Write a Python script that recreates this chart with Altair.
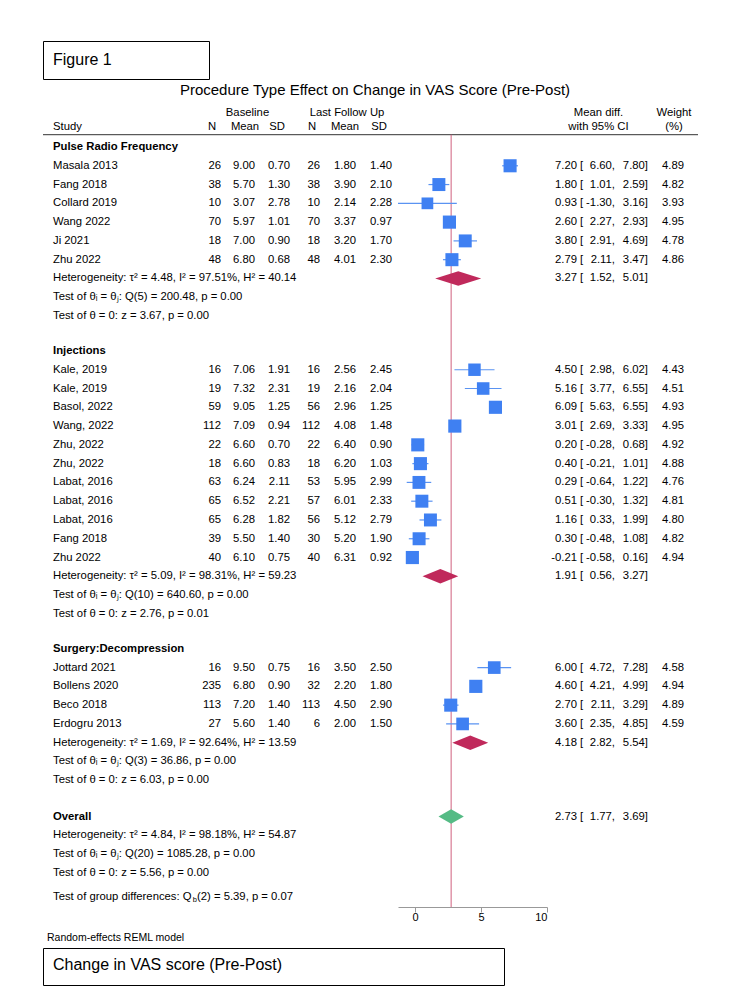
import altair as alt
import pandas as pd

# ---------------- data ----------------
section_names = ["Pulse Radio Frequency", "Injections", "Surgery:Decompression"]
study = ["Masala 2013", "Fang 2018", "Collard 2019", "Wang 2022", "Ji 2021", "Zhu 2022",
         "Kale, 2019", "Kale, 2019", "Basol, 2022", "Wang, 2022", "Zhu, 2022", "Zhu, 2022",
         "Labat, 2016", "Labat, 2016", "Labat, 2016", "Fang 2018", "Zhu 2022",
         "Jottard 2021", "Bollens 2020", "Beco 2018", "Erdogru 2013"]
section = [0] * 6 + [1] * 11 + [2] * 4
n_base = [26, 38, 10, 70, 18, 48, 16, 19, 59, 112, 22, 18, 63, 65, 65, 39, 40, 16, 235, 113, 27]
mean_base = [9.00, 5.70, 3.07, 5.97, 7.00, 6.80, 7.06, 7.32, 9.05, 7.09, 6.60, 6.60, 6.24, 6.52,
             6.28, 5.50, 6.10, 9.50, 6.80, 7.20, 5.60]
sd_base = [0.70, 1.30, 2.78, 1.01, 0.90, 0.68, 1.91, 2.31, 1.25, 0.94, 0.70, 0.83, 2.11, 2.21,
           1.82, 1.40, 0.75, 0.75, 0.90, 1.40, 1.40]
n_fu = [26, 38, 10, 70, 18, 48, 16, 19, 56, 112, 22, 18, 53, 57, 56, 30, 40, 16, 32, 113, 6]
mean_fu = [1.80, 3.90, 2.14, 3.37, 3.20, 4.01, 2.56, 2.16, 2.96, 4.08, 6.40, 6.20, 5.95, 6.01,
           5.12, 5.20, 6.31, 3.50, 2.20, 4.50, 2.00]
sd_fu = [1.40, 2.10, 2.28, 0.97, 1.70, 2.30, 2.45, 2.04, 1.25, 1.48, 0.90, 1.03, 2.99, 2.33,
         2.79, 1.90, 0.92, 2.50, 1.80, 2.90, 1.50]
md = [7.20, 1.80, 0.93, 2.60, 3.80, 2.79, 4.50, 5.16, 6.09, 3.01, 0.20, 0.40, 0.29, 0.51, 1.16,
      0.30, -0.21, 6.00, 4.60, 2.70, 3.60]
ci_lo = [6.60, 1.01, -1.30, 2.27, 2.91, 2.11, 2.98, 3.77, 5.63, 2.69, -0.28, -0.21, -0.64, -0.30,
         0.33, -0.48, -0.58, 4.72, 4.21, 2.11, 2.35]
ci_hi = [7.80, 2.59, 3.16, 2.93, 4.69, 3.47, 6.02, 6.55, 6.55, 3.33, 0.68, 1.01, 1.22, 1.32,
         1.99, 1.08, 0.16, 7.28, 4.99, 3.29, 4.85]
weight = [4.89, 4.82, 3.93, 4.95, 4.78, 4.86, 4.43, 4.51, 4.93, 4.95, 4.92, 4.88, 4.76, 4.81,
          4.80, 4.82, 4.94, 4.58, 4.94, 4.89, 4.59]

pooled_md = [3.27, 1.91, 4.18, 2.73]          # 3 subgroups + overall
pooled_lo = [1.52, 0.56, 2.82, 1.77]
pooled_hi = [5.01, 3.27, 5.54, 3.69]
tau2 = [4.48, 5.09, 1.69, 4.84]
i2 = [97.51, 98.31, 92.64, 98.18]
h2 = [40.14, 59.23, 13.59, 54.87]
q_df = [5, 10, 3, 20]
q_stat = [200.48, 640.60, 36.86, 1085.28]
q_p = [0.00, 0.00, 0.00, 0.00]
z_stat = [3.67, 2.76, 6.03, 5.56]
z_p = [0.00, 0.01, 0.00, 0.00]
qb_df, qb_stat, qb_p = 2, 5.39, 0.07

# ---------------- layout (row index) ----------------
FONT = "Liberation Sans"
FS = 11.3
GAP = 0.86
ROW_PX = 18.78
study_row, sec_row, pool_row, het_row = [], [], [], []
r = 0.0
for g in range(3):
    sec_row.append(r)
    r += 1
    for i in range(len(study)):
        if section[i] == g:
            study_row.append(r)
            r += 1
    pool_row.append(r)
    het_row.append(r)
    r += 3 + GAP
overall_row = r + 0.07
sec_row.append(overall_row)
pool_row.append(overall_row)
het_row.append(overall_row + 1)
grp_row = overall_row + 3 + 1.3

Y_HEAD1, Y_HEAD2, Y_LINE = -1.81, -1.065, -0.655
PANEL_H = 804
Y_TOP = -44 / ROW_PX
Y_BOT = Y_TOP + PANEL_H / ROW_PX
LW, MW, RW = 355, 149, 151

Y = alt.Y("row:Q", scale=alt.Scale(domain=[Y_TOP, Y_BOT], reverse=True, nice=False, zero=False),
          axis=None)

sdf = pd.DataFrame({
    "row": study_row, "study": study,
    "n1": [str(v) for v in n_base], "m1": [f"{v:.2f}" for v in mean_base],
    "s1": [f"{v:.2f}" for v in sd_base], "n2": [str(v) for v in n_fu],
    "m2": [f"{v:.2f}" for v in mean_fu], "s2": [f"{v:.2f}" for v in sd_fu],
    "md": md, "lo": ci_lo, "hi": ci_hi, "w": weight,
    "md_s": [f"{v:.2f}" for v in md], "lo_s": [f"{v:.2f}," for v in ci_lo],
    "hi_s": [f"{v:.2f}]" for v in ci_hi], "w_s": [f"{v:.2f}" for v in weight],
})

pdf = pd.DataFrame({
    "row": pool_row,
    "md_s": [f"{v:.2f}" for v in pooled_md], "lo_s": [f"{v:.2f}," for v in pooled_lo],
    "hi_s": [f"{v:.2f}]" for v in pooled_hi],
})

stat_rows, stat_text, stat_bold = [], [], []
for g in range(4):
    stat_rows.append(sec_row[g]); stat_text.append((section_names + ["Overall"])[g]); stat_bold.append(True)
    hr = het_row[g]
    stat_rows += [hr, hr + 1, hr + 2]
    stat_text += [f"Heterogeneity: \u03c4\u00b2 = {tau2[g]:.2f}, I\u00b2 = {i2[g]:.2f}%, H\u00b2 = {h2[g]:.2f}",
                  f"Test of \u03b8\u1d62 = \u03b8\u2c7c: Q({q_df[g]}) = {q_stat[g]:.2f}, p = {q_p[g]:.2f}",
                  f"Test of \u03b8 = 0: z = {z_stat[g]:.2f}, p = {z_p[g]:.2f}"]
    stat_bold += [False, False, False]
stdf = pd.DataFrame({"row": stat_rows, "text": stat_text, "bold": stat_bold})


def col(df, field, x, align="left", bold=False, size=FS):
    return alt.Chart(df).mark_text(align=align, baseline="middle", font=FONT, fontSize=size,
                                   fontWeight="bold" if bold else "normal", color="black").encode(
        x=alt.value(x), y=Y, text=f"{field}:N")


def label(text, x, row, align="left", size=FS, dy=0):
    return alt.Chart(pd.DataFrame({"row": [row]})).mark_text(
        text=text, align=align, baseline="middle", font=FONT, fontSize=size, color="black", dy=dy
    ).encode(x=alt.value(x), y=Y)


def bracket(df):
    return alt.Chart(df).mark_text(text="[", align="left", baseline="middle", font=FONT,
                                   fontSize=FS, color="black").encode(x=alt.value(33), y=Y)


def hline(w):
    return alt.Chart(pd.DataFrame({"row": [Y_LINE]})).mark_rule(color="#333", strokeWidth=1).encode(
        x=alt.value(0), x2=alt.value(w), y=Y)


# ---------------- left panel ----------------
qw = 12.395 * FS  # width of "Test of group differences: Q" in Liberation Sans
left_layers = [
    hline(LW),
    label("Study", 10, Y_HEAD2),
    label("Baseline", 204.5, Y_HEAD1, "center"),
    label("Last Follow Up", 304, Y_HEAD1, "center"),
    label("N", 169, Y_HEAD2, "center"), label("Mean", 202, Y_HEAD2, "center"),
    label("SD", 234, Y_HEAD2, "center"), label("N", 269, Y_HEAD2, "center"),
    label("Mean", 302, Y_HEAD2, "center"), label("SD", 336, Y_HEAD2, "center"),
    col(sdf, "study", 10),
    col(sdf, "n1", 178, "right"), col(sdf, "m1", 212, "right"), col(sdf, "s1", 247, "right"),
    col(sdf, "n2", 277, "right"), col(sdf, "m2", 313, "right"), col(sdf, "s2", 349, "right"),
    col(stdf[stdf.bold], "text", 10, bold=True),
    col(stdf[~stdf.bold], "text", 10),
    label("Test of group differences: Q", 10, grp_row),
    label("b", 10 + qw - 0.3, grp_row, size=7.5, dy=3),
    label(f"({qb_df}) = {qb_stat:.2f}, p = {qb_p:.2f}", 10 + qw + 3.9, grp_row),
]
left = alt.layer(*left_layers).properties(width=LW, height=PANEL_H)

# ---------------- middle (forest) panel ----------------
XS = alt.Scale(domain=[-1.3, 10], nice=False, zero=False)
XA = alt.Axis(values=[0, 5, 10], title=None, grid=False, labelFont=FONT, labelFontSize=11,
              labelColor="black", tickColor="#999", domainColor="#999", tickSize=5,
              labelPadding=-1, format="d")

dia_x, dia_y, dia_y2, dia_id, dia_col = [], [], [], [], []
H = 0.385
for g in range(4):
    rr = pool_row[g]
    c = "#55bb85" if g == 3 else "#c0295b"
    for xv, a, b in [(pooled_lo[g], rr, rr), (pooled_md[g], rr - H, rr + H), (pooled_hi[g], rr, rr)]:
        dia_x.append(xv); dia_y.append(a); dia_y2.append(b); dia_id.append(g); dia_col.append(c)
ddf = pd.DataFrame({"x": dia_x, "row": dia_y, "row2": dia_y2, "id": dia_id, "col": dia_col})

refdf = pd.DataFrame({"x": [pooled_md[3]], "row": [Y_LINE], "row2": [Y_BOT]})

mid = alt.layer(
    hline(MW),
    alt.Chart(refdf).mark_rule(color="#d0607e", strokeWidth=1).encode(
        x=alt.X("x:Q", scale=XS, axis=XA), y=Y, y2="row2:Q"),
    alt.Chart(sdf).mark_rule(color="#5a93f2", strokeWidth=1.2).encode(
        x=alt.X("lo:Q", scale=XS, axis=XA), x2="hi:Q", y=Y),
    alt.Chart(sdf).mark_square(filled=True, color="#3f80f2", opacity=1).encode(
        x=alt.X("md:Q", scale=XS, axis=XA), y=Y,
        size=alt.Size("w:Q", scale=alt.Scale(domain=[0, 5], range=[0, 175]), legend=None)),
    alt.Chart(ddf).mark_area(orient="vertical", opacity=1).encode(
        x=alt.X("x:Q", scale=XS, axis=XA), y=Y, y2="row2:Q", detail="id:N",
        color=alt.Color("col:N", scale=None)),
).properties(width=MW, height=PANEL_H)

# ---------------- right panel ----------------
right = alt.layer(
    hline(RW),
    label("Mean diff.", 51.5, Y_HEAD1, "center"),
    label("with 95% CI", 51.5, Y_HEAD2, "center"),
    label("Weight", 127, Y_HEAD1, "center"),
    label("(%)", 127, Y_HEAD2, "center"),
    col(sdf, "md_s", 30, "right"), bracket(sdf), col(sdf, "lo_s", 68, "right"),
    col(sdf, "hi_s", 101, "right"), col(sdf, "w_s", 137, "right"),
    col(pdf, "md_s", 30, "right"), bracket(pdf), col(pdf, "lo_s", 68, "right"),
    col(pdf, "hi_s", 101, "right"),
).properties(width=RW, height=PANEL_H)

main = alt.hconcat(left, mid, right, spacing=0, bounds="flush")

# ---------------- boxes / titles ----------------
one = pd.DataFrame({"a": [0]})
fig_box = alt.Chart(one).mark_text(text="Figure 1", align="left", baseline="middle", font=FONT,
                                   fontSize=16, color="black").encode(
    x=alt.value(10), y=alt.value(19)).properties(
    width=166, height=38, view=alt.ViewBackground(stroke="black", strokeWidth=1))

title = alt.Chart(one).mark_text(text="Procedure Type Effect on Change in VAS Score (Pre-Post)",
                                 align="center", baseline="middle", font=FONT, fontSize=15,
                                 color="black").encode(
    x=alt.value(332), y=alt.value(10)).properties(width=LW + MW + RW, height=23)

foot = alt.Chart(one).mark_text(text="Random-effects REML model", align="left", baseline="middle",
                                font=FONT, fontSize=10.5, color="black").encode(
    x=alt.value(4), y=alt.value(16)).properties(width=LW + MW + RW, height=25)

bottom_box = alt.Chart(one).mark_text(text="Change in VAS score (Pre-Post)", align="left",
                                      baseline="middle", font=FONT, fontSize=16,
                                      color="black").encode(
    x=alt.value(10), y=alt.value(17)).properties(
    width=461, height=37, view=alt.ViewBackground(stroke="black", strokeWidth=1))

chart = alt.vconcat(fig_box, title, main, foot, bottom_box, spacing=0).properties(
    padding={"left": 34, "top": 32, "right": 5, "bottom": 5}
).configure_view(stroke=None)

chart.save("out.html", embed_options={"renderer": "svg", "actions": False})
